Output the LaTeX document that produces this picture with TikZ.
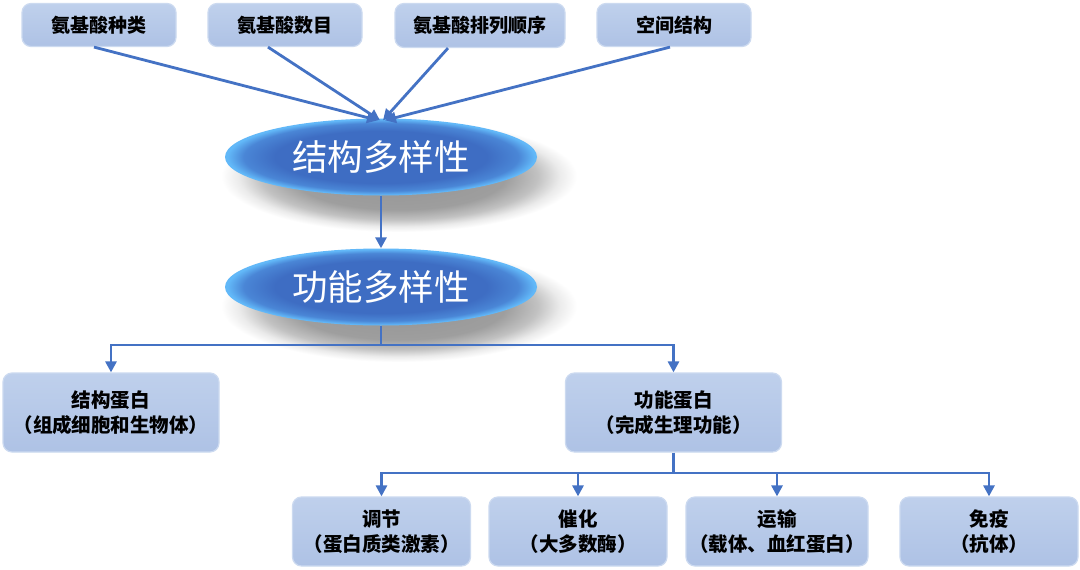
\documentclass[tikz,border=0pt]{standalone}
\usepackage{fontspec}
\setmainfont{Noto Sans CJK SC}
\usetikzlibrary{shapes.geometric,arrows.meta}
\definecolor{lineblue}{HTML}{4472C4}
\definecolor{boxtop}{HTML}{BFD0EC}
\definecolor{boxbot}{HTML}{AEC2E5}
\definecolor{boxedge}{HTML}{CCDAF0}
\definecolor{ellin}{HTML}{3E6DC3}
\definecolor{ellmid}{HTML}{4A86D6}
\definecolor{ellout}{HTML}{62B8F8}
\pgfdeclareradialshading{ovalshade}{\pgfpoint{0bp}{0bp}}{color(0bp)=(ellin); color(17bp)=(ellin); color(22bp)=(ellmid); color(24.6bp)=(ellout); color(25bp)=(ellout); color(50bp)=(ellout)}
\pgfdeclareradialshading{shadowshade}{\pgfpoint{0bp}{0bp}}{color(0bp)=(black!42); color(15bp)=(black!38); color(19.5bp)=(black!24); color(22.5bp)=(black!8); color(25bp)=(white); color(50bp)=(white)}
\tikzset{
  box/.style={draw=boxedge, line width=1.2pt, rounded corners=9pt, top color=boxtop, bottom color=boxbot,
    text=black, font=\fontsize{19}{24}\selectfont\bfseries, align=center, inner sep=0pt},
  topbox/.style={box, minimum width=154pt, minimum height=43pt},
  midbox/.style={box, minimum width=216pt, minimum height=79pt, font=\fontsize{19.5}{25}\selectfont\bfseries},
  lowbox/.style={box, minimum width=178pt, minimum height=69pt, font=\fontsize{19.5}{25}\selectfont\bfseries},
  oval/.style={ellipse, minimum width=312pt, minimum height=77pt, inner sep=0pt,
    shading=ovalshade, text=white, font=\fontsize{35.5}{40}\selectfont},
  link/.style={draw=lineblue, line width=2.8pt},
  conn/.style={link, -{Triangle[width=11pt,length=11pt]}}
}
\begin{document}
\begin{tikzpicture}[x=1pt,y=-1pt]
\useasboundingbox[fill=white] (0,0) rectangle (1080,570);
% shadows of the ovals
\shade[shading=shadowshade] (399,176) ellipse [x radius=178, y radius=56];
\shade[shading=shadowshade] (399,306) ellipse [x radius=178, y radius=56];
% top boxes
\node[topbox] (a1) at (99,25) {氨基酸种类};
\node[topbox] (a2) at (285,25) {氨基酸数目};
\node[topbox, minimum width=170pt, minimum height=44pt] (a3) at (480,25.5) {氨基酸排列顺序};
\node[topbox] (a4) at (674,25) {空间结构};
% ovals
\node[oval] (e1) at (381,157) {结构多样性};
\node[oval] (e2) at (381,287) {功能多样性};
% middle boxes
\node[midbox] (s1) at (111,412.5) {结构蛋白\\（组成细胞和生物体）};
\node[midbox] (s2) at (673.5,412.5) {功能蛋白\\（完成生理功能）};
% bottom boxes
\node[lowbox] (b1) at (381.5,531.5) {调节\\（蛋白质类激素）};
\node[lowbox] (b2) at (578,531.5) {催化\\（大多数酶）};
\node[lowbox, minimum width=182pt] (b3) at (777,531.5) {运输\\（载体、血红蛋白）};
\node[lowbox] (b4) at (989,531.5) {免疫\\（抗体）};
% connectors top
\draw[conn] ([xshift=-5pt]a1.south) -- ([xshift=-3pt,yshift=-2pt]e1.north);
\draw[conn] ([xshift=-17pt]a2.south) -- ([xshift=-1pt,yshift=-2pt]e1.north);
\draw[conn] ([xshift=-32pt]a3.south) -- ([xshift=2pt,yshift=-2pt]e1.north);
\draw[conn] ([xshift=-4pt]a4.south) -- ([xshift=4pt,yshift=-2pt]e1.north);
\draw[conn] (e1.south) -- (e2.north);
% tree
\coordinate (j1) at (381,345);
\draw[link] (e2.south) -- (j1);
\draw[conn] (j1) -| (s1.north);
\draw[conn] (j1) -| (s2.north);
\coordinate (j2) at (673.5,473);
\draw[link] (s2.south) -- (j2);
\draw[conn] (j2) -| (b1.north);
\draw[conn] (j2) -| (b2.north);
\draw[conn] (j2) -| (b3.north);
\draw[conn] (j2) -| (b4.north);
\end{tikzpicture}
\end{document}
